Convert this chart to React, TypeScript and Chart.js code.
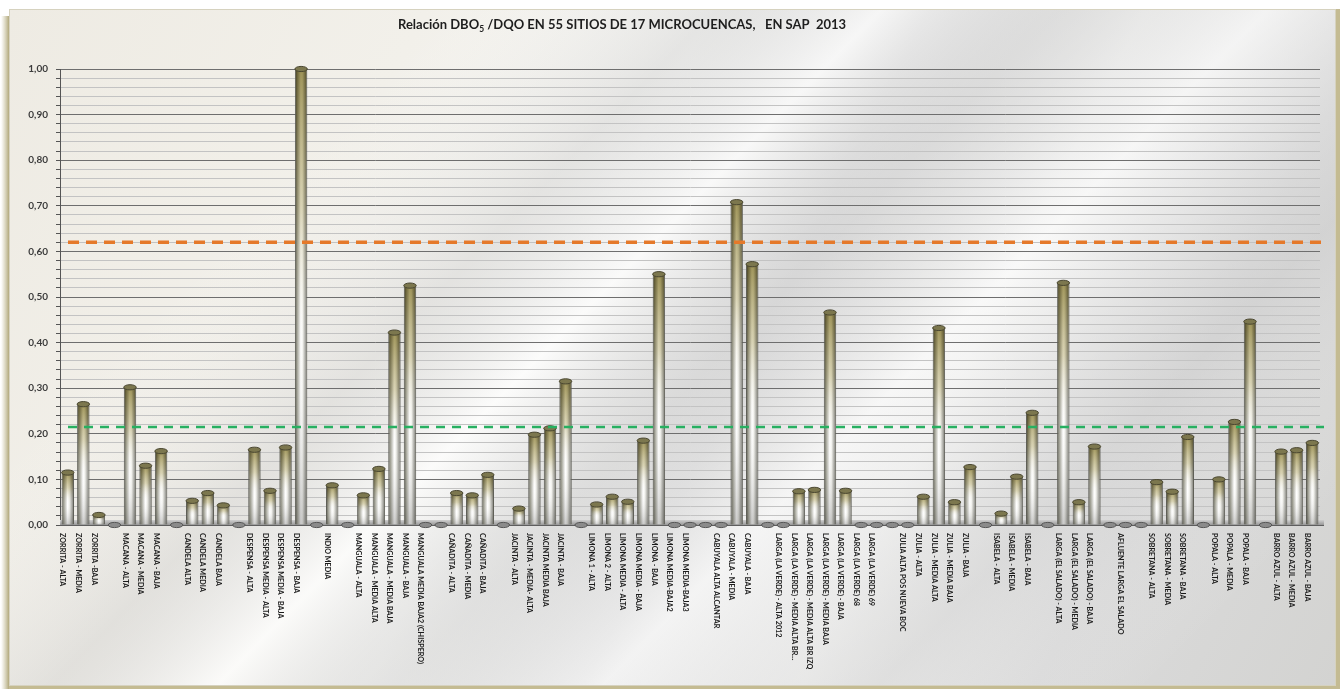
import React, { useEffect, useRef } from 'react';
import { Chart, registerables } from 'chart.js';

Chart.register(...registerables);

// ---- data ----
const categories: string[] = [
  'ZORRITA - ALTA', 'ZORRITA - MEDIA', 'ZORRITA -BAJA', '',
  'MACANA - ALTA', 'MACANA - MEDIA', 'MACANA - BAJA', '',
  'CANDELA ALTA', 'CANDELA MEDIA', 'CANDELA BAJA', '',
  'DESPENSA - ALTA', 'DESPENSA MEDIA - ALTA', 'DESPENSA MEDIA - BAJA', 'DESPENSA - BAJA', '',
  'INDIO MEDIA', '',
  'MANGUALA - ALTA', 'MANGUALA - MEDIA ALTA', 'MANGUALA - MEDIA BAJA', 'MANGUALA - BAJA', 'MANGUALA MEDIA BAJA2 (CHISPERO)', '',
  'CAÑADITA - ALTA', 'CAÑADITA - MEDIA', 'CAÑADITA - BAJA', '',
  'JACINTA - ALTA', 'JACINTA - MEDIA- ALTA', 'JACINTA MEDIA BAJA', 'JACINTA - BAJA', '',
  'LIMONA 1 - ALTA', 'LIMONA 2 - ALTA', 'LIMONA MEDIA - ALTA', 'LIMONA MEDIA - BAJA', 'LIMONA - BAJA', 'LIMONA MEDIA-BAJA2', 'LIMONA MEDIA-BAJA3', '',
  'CABUYALA ALTA ALCANTAR', 'CABUYALA - MEDIA', 'CABUYALA - BAJA', '',
  'LARGA (LA VERDE) - ALTA 2012', 'LARGA (LA VERDE) - MEDIA ALTA BR...', 'LARGA (LA VERDE) - MEDIA ALTA BR IZQ', 'LARGA (LA VERDE) - MEDIA BAJA', 'LARGA (LA VERDE) - BAJA', 'LARGA (LA VERDE) 68', 'LARGA (LA VERDE) 69', '',
  'ZULIA ALTA POS NUEVA BOC', 'ZULIA - ALTA', 'ZULIA - MEDIA ALTA', 'ZULIA - MEDIA BAJA', 'ZULIA - BAJA', '',
  'ISABELA - ALTA', 'ISABELA - MEDIA', 'ISABELA - BAJA', '',
  'LARGA (EL SALADO) - ALTA', 'LARGA (EL SALADO) - MEDIA', 'LARGA (EL SALADO) - BAJA', '',
  'AFLUENTE LARGA EL SALADO', '',
  'SOBRETANA - ALTA', 'SOBRETANA - MEDIA', 'SOBRETANA - BAJA', '',
  'POPALA - ALTA', 'POPALA - MEDIA', 'POPALA - BAJA', '',
  'BARRO AZUL - ALTA', 'BARRO AZUL - MEDIA', 'BARRO AZUL - BAJA',
];

const ratioValues: number[] = [
  0.115, 0.265, 0.022, 0,
  0.302, 0.13, 0.162, 0,
  0.053, 0.07, 0.043, 0,
  0.165, 0.075, 0.17, 1.0, 0,
  0.087, 0,
  0.065, 0.123, 0.422, 0.525, 0, 0,
  0.07, 0.065, 0.11, 0,
  0.036, 0.198, 0.212, 0.315, 0,
  0.045, 0.062, 0.051, 0.185, 0.55, 0, 0, 0,
  0, 0.708, 0.572, 0,
  0, 0.074, 0.077, 0.466, 0.075, 0, 0, 0,
  0, 0.062, 0.432, 0.05, 0.127, 0,
  0.025, 0.106, 0.246, 0,
  0.531, 0.05, 0.172, 0,
  0, 0,
  0.094, 0.073, 0.193, 0,
  0.1, 0.226, 0.446, 0,
  0.161, 0.164, 0.18,
];

const upperLimit = 0.62;
const lowerLimit = 0.215;
const yMin = 0;
const yMax = 1.0;
const yStep = 0.02;
const titleMain = 'Relación DBO';
const titleSub = '5';
const titleRest = ' /DQO EN 55 SITIOS DE 17 MICROCUENCAS,   EN SAP  2013';

const fmtTick = (v: number) => {
  const n = Math.round(v * 100);
  return n % 10 === 0 ? (n / 100).toFixed(2).replace('.', ',') : '';
};

const backgroundPlugin = {
  id: 'bgFrame',
  beforeDraw(chart: any) {
    const { ctx, width, height } = chart;
    ctx.save();
    ctx.fillStyle = '#ffffff';
    ctx.fillRect(0, 0, width, height);
    const sh = ctx.createLinearGradient(1, 0, 9, 0);
    sh.addColorStop(0, 'rgba(190,182,140,0)');
    sh.addColorStop(1, 'rgba(170,160,110,0.9)');
    ctx.fillStyle = sh;
    ctx.fillRect(1, 16, 8, height - 16);
    const x0 = 9, y0 = 9, x1 = width - 7, y1 = height - 3;
    const g = ctx.createLinearGradient(x0, y0, x1, y1);
    g.addColorStop(0, '#eeebe3');
    g.addColorStop(0.25, '#f2f0ea');
    g.addColorStop(0.42, '#f7f7f5');
    g.addColorStop(0.55, '#e4e4e4');
    g.addColorStop(0.68, '#f3f3f2');
    g.addColorStop(0.82, '#dbdbdb');
    g.addColorStop(1, '#d3d3d1');
    ctx.fillStyle = g;
    ctx.fillRect(x0, y0, x1 - x0, y1 - y0);
    const s = ctx.createLinearGradient(450, 0, 1150, 689);
    s.addColorStop(0, 'rgba(255,255,255,0)');
    s.addColorStop(0.2, 'rgba(195,195,195,0.35)');
    s.addColorStop(0.32, 'rgba(255,255,255,0.6)');
    s.addColorStop(0.45, 'rgba(185,185,185,0.3)');
    s.addColorStop(0.6, 'rgba(255,255,255,0.5)');
    s.addColorStop(0.8, 'rgba(195,195,195,0.3)');
    s.addColorStop(1, 'rgba(255,255,255,0)');
    ctx.fillStyle = s;
    ctx.fillRect(x0, y0, x1 - x0, y1 - y0);
    ctx.strokeStyle = '#d6d2bf';
    ctx.lineWidth = 1;
    ctx.strokeRect(x0 + 0.5, y0 + 0.5, x1 - x0 - 1, y1 - y0 - 1);
    ctx.fillStyle = '#c4bb92';
    ctx.fillRect(x1, y0, 4, height - y0);
    ctx.fillRect(x0, y1, x1 - x0 + 4, 3);
    ctx.restore();
  },
  beforeDatasetsDraw(chart: any) {
    const { ctx, chartArea } = chart;
    ctx.save();
    const fg = ctx.createLinearGradient(0, chartArea.bottom - 5, 0, chartArea.bottom + 1);
    fg.addColorStop(0, '#cfcfcf');
    fg.addColorStop(1, '#8d8d8d');
    ctx.fillStyle = fg;
    ctx.fillRect(chartArea.left, chartArea.bottom - 5, chartArea.right - chartArea.left + 4, 6);
    ctx.strokeStyle = '#5e5e5e';
    ctx.lineWidth = 1;
    ctx.beginPath();
    ctx.moveTo(chartArea.left, chartArea.bottom + 0.5);
    ctx.lineTo(chartArea.right + 4, chartArea.bottom + 0.5);
    ctx.stroke();
    ctx.restore();
  },
};

const cylinderPlugin = {
  id: 'cylinders',
  afterDatasetsDraw(chart: any) {
    const { ctx, chartArea } = chart;
    const meta = chart.getDatasetMeta(0);
    const ys = chart.scales.y;
    ctx.save();
    meta.data.forEach((bar: any, i: number) => {
      const { x, y, base, width } = bar.getProps(['x', 'y', 'base', 'width'], true);
      const hw = width / 2;
      const h = base - y;
      if (h > 1) {
        const vg = ctx.createLinearGradient(0, y, 0, base);
        vg.addColorStop(0, 'rgba(150,138,72,0.9)');
        vg.addColorStop(0.3, 'rgba(190,180,125,0.55)');
        vg.addColorStop(0.6, 'rgba(255,255,255,0)');
        vg.addColorStop(1, 'rgba(140,140,140,0.45)');
        ctx.globalCompositeOperation = 'multiply';
        ctx.fillStyle = vg;
        ctx.fillRect(x - hw + 1, y, width - 2, h);
        ctx.globalCompositeOperation = 'source-over';
      }
      const zero = ratioValues[i] === 0;
      ctx.beginPath();
      ctx.ellipse(x, y, hw, 2.6, 0, 0, Math.PI * 2);
      ctx.fillStyle = zero ? '#8b8b8b' : '#7c774e';
      ctx.fill();
      ctx.strokeStyle = zero ? '#565656' : '#4a4731';
      ctx.lineWidth = 1;
      ctx.stroke();
    });
    const drawLimit = (val: number, color: string, lw: number, dash: number[]) => {
      const py = ys.getPixelForValue(val);
      ctx.save();
      ctx.strokeStyle = color;
      ctx.lineWidth = lw;
      ctx.setLineDash(dash);
      ctx.beginPath();
      ctx.moveTo(chartArea.left + 8, py);
      ctx.lineTo(chartArea.right + 4, py);
      ctx.stroke();
      ctx.restore();
    };
    drawLimit(upperLimit, '#e5792a', 3.5, [11, 7]);
    drawLimit(lowerLimit, '#27b061', 2.5, [9, 7]);
    ctx.restore();
  },
};

const textPlugin = {
  id: 'texts',
  afterDraw(chart: any) {
    const { ctx, chartArea } = chart;
    const xs = chart.scales.x;
    ctx.save();
    ctx.font = 'bold 7.2px Lato';
    ctx.fillStyle = '#1c1c1c';
    ctx.textAlign = 'left';
    ctx.textBaseline = 'middle';
    categories.forEach((lab, i) => {
      if (!lab) return;
      const px = xs.getPixelForValue(i) - 5;
      ctx.save();
      ctx.translate(px, chartArea.bottom + 8);
      ctx.rotate(Math.PI / 2);
      ctx.fillText(lab, 0, 0);
      ctx.restore();
    });
    ctx.fillStyle = '#1e1e1e';
    ctx.textBaseline = 'alphabetic';
    ctx.font = 'bold 13px Lato';
    let tx = 398;
    const ty = 29;
    ctx.fillText(titleMain, tx, ty);
    tx += ctx.measureText(titleMain).width;
    ctx.font = 'bold 8.5px Lato';
    ctx.fillText(titleSub, tx, ty + 3);
    tx += ctx.measureText(titleSub).width;
    ctx.font = 'bold 13px Lato';
    ctx.fillText(titleRest, tx, ty);
    ctx.restore();
  },
};

export default function App() {
  const canvasRef = useRef<HTMLCanvasElement | null>(null);

  useEffect(() => {
    if (!canvasRef.current) return;
    const chart = new Chart(canvasRef.current, {
      type: 'bar',
      data: {
        labels: categories,
        datasets: [
          {
            data: ratioValues,
            barPercentage: 0.8,
            categoryPercentage: 1.0,
            borderWidth: 1,
            borderColor: '#5f5f57',
            backgroundColor: (c: any) => {
              const ch = c.chart;
              if (!ch.chartArea) return '#dddddd';
              const xs = ch.scales.x;
              const px = xs.getPixelForValue(c.dataIndex);
              const w = (xs.width / categories.length) * 0.8;
              const g = ch.ctx.createLinearGradient(px - w / 2, 0, px + w / 2, 0);
              g.addColorStop(0, '#55554c');
              g.addColorStop(0.18, '#a3a397');
              g.addColorStop(0.48, '#ffffff');
              g.addColorStop(0.62, '#f3f3ef');
              g.addColorStop(0.88, '#9b9b95');
              g.addColorStop(1, '#65655f');
              return g;
            },
          },
        ],
      },
      options: {
        animation: false,
        responsive: true,
        maintainAspectRatio: false,
        devicePixelRatio: 1,
        layout: { padding: { top: 69, right: 23, bottom: 0, left: 0 } },
        plugins: {
          legend: { display: false },
          tooltip: { enabled: false },
          title: { display: false },
        },
        scales: {
          x: {
            grid: { display: false },
            border: { display: false },
            ticks: { display: false },
            afterFit: (scale: any) => {
              scale.height = 164;
            },
          },
          y: {
            min: yMin,
            max: yMax,
            border: { display: true, color: '#555555', width: 1 },
            grid: {
              color: (c: any) => (Math.round(c.tick.value * 100) % 10 === 0 ? '#6e6e6e' : '#c3c3c3'),
              tickColor: '#555555',
              tickLength: 4,
              lineWidth: 1,
            },
            ticks: {
              stepSize: yStep,
              autoSkip: false,
              padding: 8,
              color: '#3c3c3c',
              font: { family: 'Lato', weight: 'bold', size: 10 },
              callback: (v: any) => fmtTick(Number(v)),
            },
            afterFit: (scale: any) => {
              scale.width = 60;
            },
          },
        },
      },
      plugins: [backgroundPlugin, cylinderPlugin, textPlugin],
    });
    return () => chart.destroy();
  }, []);

  return (
    <div style={{ position: 'fixed', left: 0, top: 0, width: 1343, height: 689 }}>
      <canvas ref={canvasRef} />
    </div>
  );
}
